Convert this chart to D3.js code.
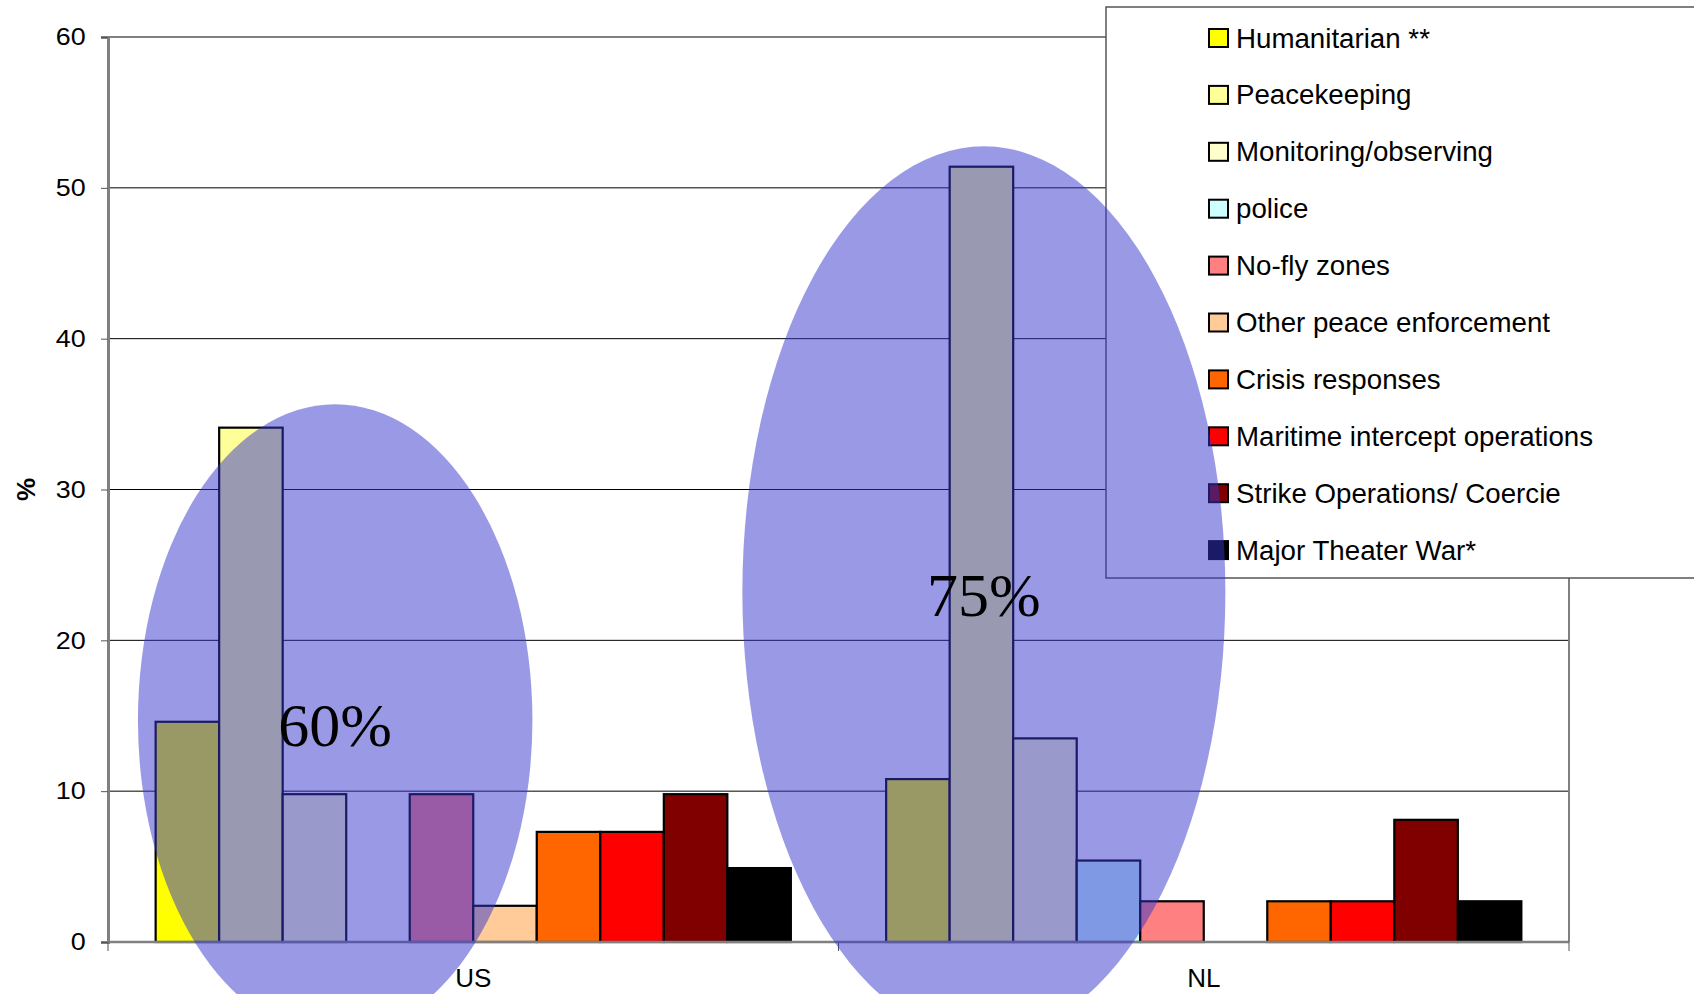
<!DOCTYPE html>
<html lang="en">
<head>
  <meta charset="UTF-8">
  <title>Operations share, US vs NL</title>
  <style>
    body { margin: 0; background: #fff; }
    svg { display: block; font-family: "Liberation Sans", Arial, sans-serif; }
    .grid line { stroke: #000; stroke-width: 1; }
    .bar { stroke: #000; stroke-width: 2.2; }
  </style>
</head>
<body>
  <svg width="1694" height="994"></svg>
  <script src="https://d3js.org/d3.v7.min.js"></script>
  <script>
    const categories = ["US", "NL"];
    const series = [
      "Humanitarian **", "Peacekeeping", "Monitoring/observing", "police", "No-fly zones",
      "Other peace enforcement", "Crisis responses", "Maritime intercept operations",
      "Strike Operations/ Coercie", "Major Theater War*"
    ];
    const colors = ["#ffff00", "#ffff99", "#ffffcc", "#ccffff", "#ff8080",
                    "#ffcc99", "#ff6600", "#ff0000", "#800000", "#000000"];
    const usValues = [14.6, 34.1, 9.8, 0, 9.8, 2.4, 7.3, 7.3, 9.8, 4.9];
    const nlValues = [10.8, 51.4, 13.5, 5.4, 2.7, 0, 2.7, 2.7, 8.1, 2.7];
    const yTicks = [0, 10, 20, 30, 40, 50, 60];

    // highlight ellipses: position within the category band + value centre / radius
    const highlights = [
      { cat: "US", fx: 0.311, frx: 0.27, cy: 14.7, ry: 20.95, label: "60%", ly: 13.0 },
      { cat: "NL", fx: 0.199, frx: 0.3306, cy: 23.2, ry: 29.55, label: "75%", ly: 21.6 }
    ];

    const svg = d3.select("svg");
    const plotL = 108, plotR = 1569, plotT = 37, plotB = 942;

    const x0 = d3.scaleBand().domain(categories).range([plotL, plotR]);
    const x1 = d3.scaleBand().domain(series).range([0, x0.bandwidth()]).paddingOuter(0.75);
    const y = d3.scaleLinear().domain([0, 60]).range([plotB, plotT]);

    // gridlines
    svg.append("g").attr("class", "grid")
      .selectAll("line").data(yTicks.filter(d => d > 0 && d < 60)).join("line")
      .attr("x1", plotL).attr("x2", plotR)
      .attr("y1", d => y(d)).attr("y2", d => y(d));

    // plot frame (top + right)
    svg.append("path")
      .attr("d", `M${plotL},${y(60)}H${plotR}V${y(0)}`)
      .attr("fill", "none").attr("stroke", "#808080").attr("stroke-width", 2);

    // bars
    const rows = [usValues, nlValues];
    const groups = svg.append("g").selectAll("g").data(categories).join("g")
      .attr("transform", d => `translate(${x0(d)},0)`);
    groups.selectAll("rect")
      .data((c, i) => series.map((s, j) => ({ s, j, v: rows[i][j] })).filter(d => d.v > 0))
      .join("rect")
      .attr("class", "bar")
      .attr("x", d => x1(d.s))
      .attr("width", x1.bandwidth())
      .attr("y", d => y(d.v))
      .attr("height", d => y(0) - y(d.v))
      .attr("fill", d => colors[d.j]);

    // y axis
    const yAxis = svg.append("g").attr("transform", `translate(${plotL},0)`)
      .call(d3.axisLeft(y).tickValues(yTicks).tickSize(7).tickPadding(13));
    yAxis.select(".domain").attr("stroke", "#808080").attr("stroke-width", 3);
    yAxis.selectAll(".tick line").attr("stroke", "#555");
    yAxis.selectAll(".tick text")
      .attr("font-size", 24).attr("fill", "#000")
      .attr("font-family", "Liberation Sans, Arial")
      .attr("transform", "scale(1.12,1)");

    // x axis
    const xAxis = svg.append("g").attr("transform", `translate(0,${plotB})`);
    xAxis.append("line").attr("x1", plotL).attr("x2", plotR)
      .attr("stroke", "#808080").attr("stroke-width", 2.5);
    xAxis.selectAll(".xt").data([plotL, x0("NL"), plotR]).join("line")
      .attr("class", "xt")
      .attr("x1", d => d).attr("x2", d => d).attr("y1", 0).attr("y2", 9)
      .attr("stroke", "#555");
    xAxis.selectAll(".xl").data(categories).join("text")
      .attr("class", "xl")
      .attr("x", d => x0(d) + x0.bandwidth() / 2)
      .attr("y", 45)
      .attr("text-anchor", "middle")
      .attr("font-size", 26)
      .text(d => d);

    svg.append("text")
      .attr("transform", `translate(35,${y(30)}) rotate(-90)`)
      .attr("text-anchor", "middle")
      .attr("font-size", 26).attr("font-weight", "bold")
      .text("%");

    // legend
    const lg = svg.append("g");
    lg.append("rect").attr("x", 1106).attr("y", 7).attr("width", 600).attr("height", 571)
      .attr("fill", "#fff").attr("stroke", "#555").attr("stroke-width", 1.5);
    const item = lg.selectAll(".item").data(series).join("g")
      .attr("class", "item")
      .attr("transform", (d, i) => `translate(1209,${38 + i * 56.9})`);
    item.append("rect").attr("x", 0).attr("y", -9).attr("width", 19).attr("height", 18)
      .attr("fill", (d, i) => colors[i]).attr("stroke", "#000").attr("stroke-width", 2);
    item.append("text").attr("x", 27).attr("y", 9.5)
      .attr("font-size", 27.7).text(d => d);

    // highlight ellipses on top
    const hl = svg.append("g");
    hl.selectAll("ellipse").data(highlights).join("ellipse")
      .attr("cx", d => x0(d.cat) + d.fx * x0.bandwidth())
      .attr("rx", d => d.frx * x0.bandwidth())
      .attr("cy", d => y(d.cy))
      .attr("ry", d => y(0) - y(d.ry))
      .attr("fill", "rgb(51,51,204)").attr("fill-opacity", 0.5);
    hl.selectAll("text").data(highlights).join("text")
      .attr("x", d => x0(d.cat) + d.fx * x0.bandwidth())
      .attr("y", d => y(d.ly))
      .attr("text-anchor", "middle")
      .attr("font-family", "Liberation Serif, Times New Roman, serif")
      .attr("font-size", 62)
      .text(d => d.label);
  </script>
</body>
</html>
